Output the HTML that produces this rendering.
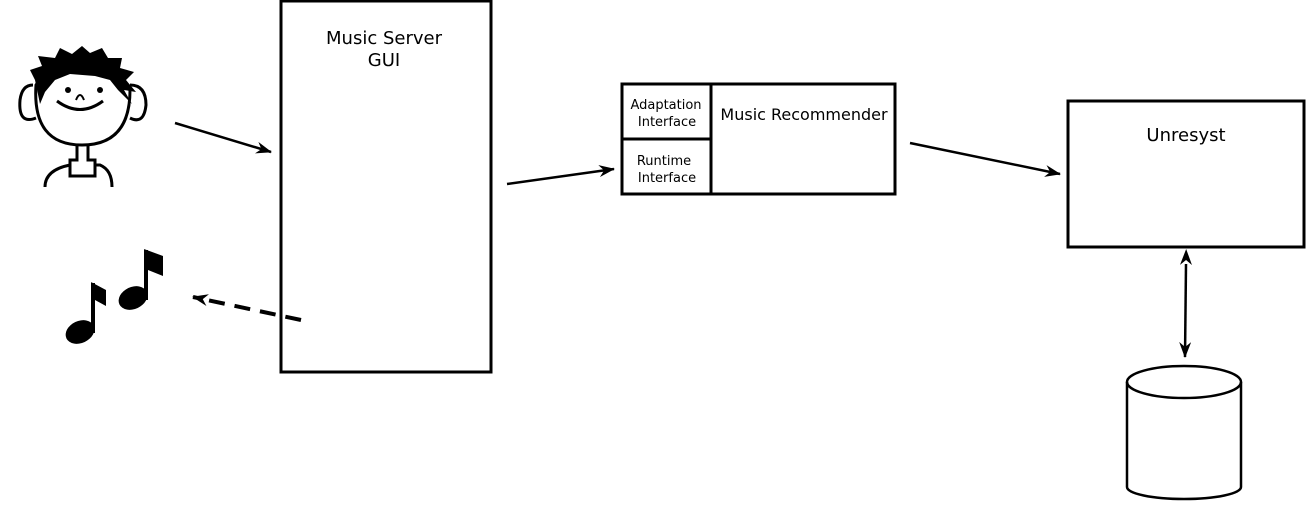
<!DOCTYPE html>
<html><head><meta charset="utf-8"><style>
html,body{margin:0;padding:0;background:#fff;width:1309px;height:517px;overflow:hidden}
text{font-family:"DejaVu Sans","Liberation Sans",sans-serif;fill:#000}
</style></head><body>
<svg width="1309" height="517" viewBox="0 0 1309 517" xmlns="http://www.w3.org/2000/svg">
<defs>
<marker id="ah" markerWidth="16" markerHeight="12" refX="15" refY="6" orient="auto" markerUnits="userSpaceOnUse">
<path d="M0,0 L16,6 L0,12 L5,6 Z" fill="#000"/></marker>
<marker id="ahs" markerWidth="16" markerHeight="12" refX="1" refY="6" orient="auto-start-reverse" markerUnits="userSpaceOnUse">
<path d="M0,0 L16,6 L0,12 L5,6 Z" fill="#000"/></marker>
</defs>
<g fill="none" stroke="#000" stroke-width="3">
<rect x="281" y="1" width="210" height="371"/>
<rect x="622" y="84" width="273" height="110"/>
<line x1="711" y1="84" x2="711" y2="194"/>
<line x1="622" y1="139" x2="711" y2="139"/>
<rect x="1068" y="101" width="236" height="146"/>
</g>
<g fill="none" stroke="#000" stroke-width="2.5">
<path d="M1127,382 L1127,487 A57,12 0 0 0 1241,487 L1241,382"/>
<ellipse cx="1184" cy="382" rx="57" ry="16"/>
</g>
<g stroke="#000" stroke-width="2.5" fill="none">
<line x1="175" y1="123" x2="271" y2="152" marker-end="url(#ah)"/>
<line x1="507" y1="184" x2="614" y2="169" marker-end="url(#ah)"/>
<line x1="910" y1="143" x2="1060" y2="174" marker-end="url(#ah)"/>
<line x1="1186" y1="264" x2="1185" y2="357" marker-start="url(#ahs)" marker-end="url(#ah)"/>
<line x1="301" y1="320" x2="193" y2="297" stroke-width="4" stroke-dasharray="16,10" marker-end="url(#ah)"/>
</g>
<text x="384" y="44" font-size="18" text-anchor="middle">Music Server</text>
<text x="384" y="66" font-size="18" text-anchor="middle">GUI</text>
<text x="804" y="120" font-size="16" text-anchor="middle">Music Recommender</text>
<text x="666" y="109" font-size="13" text-anchor="middle">Adaptation</text>
<text x="667" y="126" font-size="13" text-anchor="middle">Interface</text>
<text x="664" y="165" font-size="13" text-anchor="middle">Runtime</text>
<text x="667" y="182" font-size="13" text-anchor="middle">Interface</text>
<text x="1186" y="141" font-size="18" text-anchor="middle">Unresyst</text>
<g stroke="#000" stroke-width="3" fill="#fff">
<path d="M45,187 Q45,170 70,165 L100,165 Q112,170 112,187"/>
<path d="M77,145 L77,160 L70,160 L70,176 L95,176 L95,160 L88,160 L88,145"/>
<path d="M33,85 Q22,85 20,100 Q18,125 36,118"/>
<path d="M130,85 Q146,85 146,105 Q144,125 130,118"/>
<path d="M36,85 Q32,145 82,145 Q130,145 130,90 Q115,70 80,70 Q45,70 36,85 Z"/>
</g>
<path d="M35,80 L30,70 L42,66 L38,56 L55,58 L60,48 L72,54 L82,46 L90,53 L102,48 L108,58 L122,58 L120,68 L134,72 L126,80 L136,92 L124,90 L132,104 L118,90 L110,80 L95,76 L70,74 L55,80 L45,92 L40,104 Z" fill="#000"/>
<circle cx="68" cy="90" r="3" fill="#000"/><circle cx="100" cy="90" r="3" fill="#000"/>
<path d="M57,101 Q80,118 103,101" stroke="#000" stroke-width="3" fill="none"/>
<path d="M76,100 Q80,90 84,100" stroke="#000" stroke-width="2" fill="none"/>
<g fill="#000">
<ellipse cx="80" cy="332" rx="15" ry="11" transform="rotate(-25 80 332)"/>
<rect x="91" y="283" width="4" height="50"/>
<path d="M91,282 L106,290 L106,306 L95,300 Z"/>
<ellipse cx="133" cy="298" rx="15" ry="11" transform="rotate(-25 133 298)"/>
<rect x="144" y="250" width="4" height="50"/>
<path d="M144,249 L163,256 L163,276 L148,270 Z"/>
</g>
</svg>
</body></html>
